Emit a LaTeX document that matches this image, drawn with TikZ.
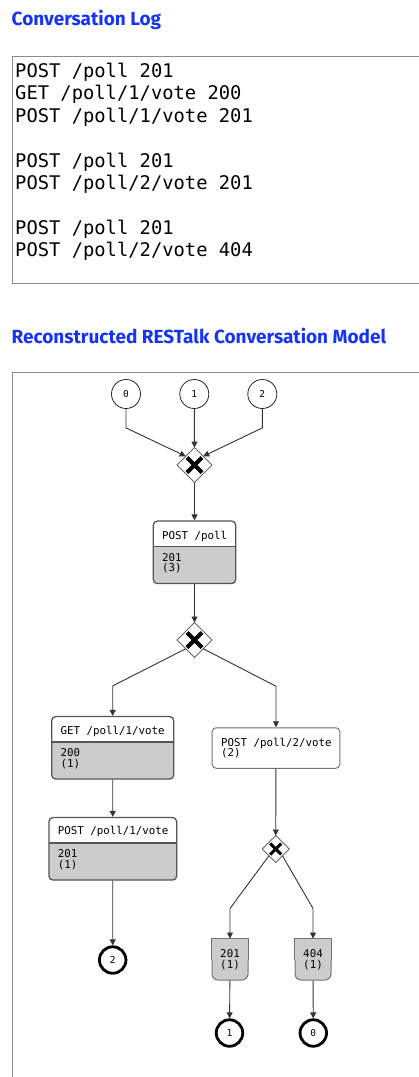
\documentclass[tikz,border=0pt]{standalone}
\usepackage{fontspec}
\setmonofont{DejaVu Sans Mono}
\newfontfamily\headfont{Fira Sans}
\usetikzlibrary{calc,arrows.meta,shapes.geometric}
\definecolor{headblue}{RGB}{22,52,245}
\definecolor{boxline}{RGB}{85,85,85}
\definecolor{respgray}{RGB}{204,204,204}
\def\gatecross(#1)(#2:#3){\draw[line width=#3] ($(#1)+(-#2,-#2)$) -- ($(#1)+(#2,#2)$) ($(#1)+(-#2,#2)$) -- ($(#1)+(#2,-#2)$);}
\tikzset{
	heading/.style={anchor=base west, inner sep=0pt, text=headblue, font=\headfont\bfseries\fontsize{19}{23}\selectfont},
	lbl/.style={inner sep=0pt, align=left, font=\ttfamily\fontsize{10.8}{10.8}\selectfont},
	flow/.style={draw=black!80, line width=0.9pt, -{Triangle[length=6pt,width=6pt]}},
	gate/.style={diamond, draw=black!60, fill=white, line width=0.9pt, inner sep=0pt, outer sep=0pt, minimum width=#1, minimum height=#1},
	gate/.default=35pt,
	start/.style={circle, draw=black!85, line width=0.8pt, minimum size=29pt, inner sep=0pt, font=\ttfamily\fontsize{9.5}{10}\selectfont},
	stop/.style={start, line width=2.8pt, draw=black, minimum size=26.5pt},
	reqbox/.style={draw=boxline, line width=1.3pt, fill=respgray, rounded corners=4pt, minimum height=62.5pt, inner sep=0pt,
		path picture={\fill[white, sharp corners] (path picture bounding box.north west) rectangle ([yshift=-25.5pt]path picture bounding box.north east);
			\draw[boxline, line width=1.3pt] ([yshift=-25.5pt]path picture bounding box.north west) -- ([yshift=-25.5pt]path picture bounding box.north east);}},
	callbox/.style={draw=black!55, line width=1pt, fill=white, rounded corners=4pt, minimum height=40.5pt, inner sep=0pt},
	respbox/.style={draw=black!55, line width=1pt, fill=respgray, rounded corners=6pt, minimum width=36pt, minimum height=41pt, inner sep=0pt},
	respline/.style={draw=black!55, line width=1pt, fill=respgray}
}

\begin{document}
\begin{tikzpicture}[x=1pt, y=-1pt]
	%%%%% START %%%%%
	\useasboundingbox (0,0) rectangle (418,1077);
	
	\node[heading] (logtitle) at (11.5,25) {Conversation Log};
	\draw[draw=black!45, line width=1pt] (12,56) rectangle (440,283);
	\node[anchor=north west, inner sep=0pt, align=left, font=\ttfamily\fontsize{18.8}{22.4}\selectfont] (log) at (15,63) {POST /poll 201\\GET /poll/1/vote 200\\POST /poll/1/vote 201\\[22.4pt]POST /poll 201\\POST /poll/2/vote 201\\[22.4pt]POST /poll 201\\POST /poll/2/vote 404};
	
	\node[heading] (modeltitle) at (11.5,343.3) {Reconstructed RESTalk Conversation Model};
	\draw[draw=black!45, line width=1pt] (12,372) rectangle (440,1100);
	
	\node[start] (s0) at (126,394) {0};
	\node[start] (s1) at (194.3,394) {1};
	\node[start] (s2) at (262.3,394) {2};
	
	\node[gate] (g1) at (194.5,465) {};
	\gatecross(g1)(7.5:4pt)
	
	\node[reqbox, minimum width=82.4pt] (poll) at (194.5,552.3) {};
	\node[lbl, anchor=west] (pollreq) at ([xshift=9.3pt,yshift=-16pt]poll.north west) {POST /poll};
	\node[lbl, anchor=west] (pollres) at ([xshift=9.3pt,yshift=-42.7pt]poll.north west) {201\\(3)};
	
	\node[gate] (g2) at (194.5,640) {};
	\gatecross(g2)(7.5:4pt)
	
	\node[reqbox, minimum width=122pt] (get) at (112.7,747.8) {};
	\node[lbl, anchor=west] (getreq) at ([xshift=9.3pt,yshift=-15.3pt]get.north west) {GET /poll/1/vote};
	\node[lbl, anchor=west] (getres) at ([xshift=9.3pt,yshift=-42.7pt]get.north west) {200\\(1)};
	
	\node[callbox, minimum width=127.7pt] (vote2) at (276,748) {};
	\node[lbl, anchor=west] (vote2req) at ([xshift=9.3pt]vote2.west) {POST /poll/2/vote\\(2)};
	
	\node[reqbox, minimum width=127.7pt] (vote1) at (112.8,848.8) {};
	\node[lbl, anchor=west] (vote1req) at ([xshift=9.3pt,yshift=-15pt]vote1.north west) {POST /poll/1/vote};
	\node[lbl, anchor=west] (vote1res) at ([xshift=9.3pt,yshift=-42.7pt]vote1.north west) {201\\(1)};
	
	\node[gate=27pt] (g3) at (275.7,849) {};
	\gatecross(g3)(5.5:3pt)
	
	\node[respbox] (ok) at (230,959.5) {};
	\draw[respline] (ok.east) -- (ok.north east) -- (ok.north west) -- (ok.west);
	\node[lbl, align=center] (oktext) at (ok) {201\\(1)};
	\node[respbox] (miss) at (313,959.5) {};
	\draw[respline] (miss.east) -- (miss.north east) -- (miss.north west) -- (miss.west);
	\node[lbl, align=center] (misstext) at (miss) {404\\(1)};
	
	\node[stop] (e2) at (112.7,960) {2};
	\node[stop] (e1) at (229.5,1033) {1};
	\node[stop] (e0) at (313.3,1033) {0};
	
	\draw[flow] (s0.south) -- ++(0,19) -- (g1.north west);
	\draw[flow] (s1) -- (g1);
	\draw[flow] (s2.south) -- ++(0,19) -- (g1.north east);
	\draw[flow] (g1) -- (poll);
	\draw[flow] (poll) -- (g2);
	\draw[flow] (g2.south west) -- ([yshift=30pt]get.north) -- (get.north);
	\draw[flow] (g2.south east) -- ([yshift=41pt]vote2.north) -- (vote2.north);
	\draw[flow] (get) -- (vote1);
	\draw[flow] (vote1) -- (e2);
	\draw[flow] (vote2) -- (g3);
	\draw[flow] (g3.south west) -- ([yshift=30pt]ok.north) -- (ok.north);
	\draw[flow] (g3.south east) -- ([yshift=30pt]miss.north) -- (miss.north);
	\draw[flow] (ok) -- (e1);
	\draw[flow] (miss) -- (e0);
	%%%%% END %%%%%
\end{tikzpicture}
\end{document}
